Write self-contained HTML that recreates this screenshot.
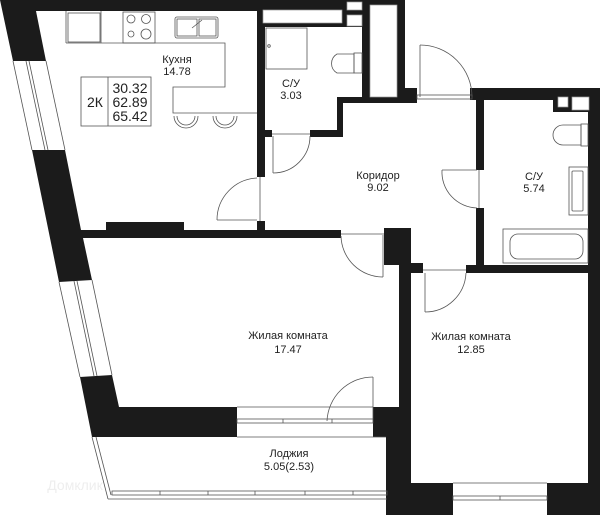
<!DOCTYPE html>
<html><head><meta charset="utf-8"><style>
html,body{margin:0;padding:0;background:#fff;}
svg{display:block;}
text{font-family:"Liberation Sans",sans-serif;fill:#222;text-anchor:middle;}
</style></head><body>
<svg width="600" height="515" viewBox="0 0 600 515" xmlns="http://www.w3.org/2000/svg">
<g fill="#1b1b1b">
<!-- left wall upper + kitchen top -->
<polygon points="0,0 262,0 262,11 36,11 46,61 13,61"/>
<!-- mid left chunk + kitchen/living wall -->
<polygon points="32,150 65,150 81,230 341,230 341,238 83,238 92,280 59,282"/>
<rect x="106" y="222" width="78" height="9"/>
<!-- lower left + living bottom wall -->
<polygon points="80,377 112,375 119,407 237,407 237,437 92,437"/>
<!-- upper middle block -->
<polygon points="257,0 405,0 405,88 417,88 417,103 343,103 343,137 265,137 265,177 257,177"/>
<rect x="257" y="221" width="8" height="17"/>
<!-- bathroom 5.74 walls -->
<rect x="470" y="88" width="130" height="12"/>
<rect x="476" y="88" width="8" height="82"/>
<rect x="476" y="208" width="8" height="65"/>
<rect x="466" y="265" width="134" height="8"/>
<rect x="553" y="100" width="37" height="12"/>
<rect x="588" y="88" width="12" height="427"/>
<!-- right room walls -->
<rect x="384" y="228" width="27" height="37"/>
<rect x="399" y="228" width="12" height="287"/>
<rect x="407" y="263" width="16" height="10"/>
<rect x="373" y="407" width="38" height="30"/>
<rect x="386" y="437" width="25" height="78"/>
<rect x="399" y="483" width="54" height="32"/>
<rect x="547" y="483" width="53" height="32"/>
</g>
<!-- white insets in upper block -->
<g fill="#fff" stroke="#999" stroke-width="0.7">
<rect x="263" y="10" width="79" height="13"/>
<rect x="370" y="5" width="27" height="92"/>
<rect x="347" y="2" width="15" height="8"/>
<rect x="347" y="15" width="15" height="11"/>
<rect x="558" y="97" width="10" height="10"/>
<rect x="572" y="97" width="17" height="13"/>
</g>
<g fill="#fff">
<rect x="265" y="27" width="97" height="70"/>
<rect x="265" y="96" width="72" height="34"/>
<rect x="272" y="129" width="38" height="9"/>
<rect x="265" y="27" width="77" height="2"/>
</g>
<!-- thin lines: windows, doors, fixtures -->
<g fill="none" stroke="#555" stroke-width="0.8">
<!-- upper window -->
<line x1="13" y1="61" x2="32" y2="150"/>
<line x1="46" y1="61" x2="65" y2="150"/>
<line x1="26" y1="61" x2="45" y2="150"/>
<line x1="29" y1="61" x2="48" y2="150"/>
<!-- lower window -->
<line x1="59" y1="282" x2="80" y2="377"/>
<line x1="92" y1="280" x2="112" y2="375"/>
<line x1="74" y1="281" x2="94" y2="376"/>
<line x1="77" y1="281" x2="97" y2="376"/>
<!-- living bottom glazing -->
<rect x="237" y="419" width="136" height="4"/>
<line x1="283" y1="419" x2="283" y2="423"/><line x1="332" y1="419" x2="332" y2="423"/>
<line x1="237" y1="407" x2="373" y2="407"/><line x1="237" y1="437" x2="386" y2="437"/>
<!-- living door -->
<line x1="373" y1="377" x2="373" y2="419"/>
<path d="M373,377 A46,46 0 0 0 327,421"/>
<!-- loggia -->
<line x1="92" y1="437" x2="108" y2="499"/>
<line x1="96" y1="437" x2="111" y2="495"/>
<polyline points="108,499 387,499"/>
<rect x="112" y="491" width="275" height="4"/>
<line x1="160" y1="491" x2="160" y2="495"/><line x1="208" y1="491" x2="208" y2="495"/><line x1="255" y1="491" x2="255" y2="495"/><line x1="305" y1="491" x2="305" y2="495"/><line x1="353" y1="491" x2="353" y2="495"/>
<!-- right room window -->
<rect x="453" y="496" width="94" height="4"/>
<line x1="453" y1="483" x2="547" y2="483"/>
<line x1="500" y1="496" x2="500" y2="500"/>
<!-- living top door -->
<line x1="383" y1="235" x2="383" y2="277"/>
<path d="M341,236 A42,42 0 0 0 383,277"/>
<line x1="341" y1="234" x2="384" y2="234"/>
<!-- right room door -->
<line x1="425" y1="273" x2="425" y2="312"/>
<path d="M466,273 A41,41 0 0 1 425,312"/>
<line x1="423" y1="270" x2="466" y2="270"/>
<!-- kitchen door -->
<line x1="217" y1="220" x2="257" y2="220"/>
<path d="M257,178 A42,42 0 0 0 217,220"/>
<line x1="260" y1="177" x2="260" y2="221"/>
<!-- bath 3.03 door -->
<line x1="273" y1="136" x2="273" y2="173"/>
<path d="M310,136 A37,37 0 0 1 273,173"/>
<line x1="272" y1="134" x2="310" y2="134"/>
<!-- bath 5.74 door -->
<line x1="442" y1="170" x2="477" y2="170"/>
<path d="M442,170 A36,36 0 0 0 477,208"/>
<line x1="479" y1="170" x2="479" y2="208"/>
<!-- entrance door -->
<line x1="420" y1="45" x2="420" y2="97"/>
<path d="M420,45 A52,52 0 0 1 472,97"/>
<rect x="417" y="95" width="55" height="4"/>
<!-- kitchen counter -->
<polyline points="66,43 225,43 225,87 173,87 173,113 257,113"/>
<line x1="66" y1="11" x2="66" y2="43"/>
<rect x="68" y="13" width="32" height="29"/>
<line x1="101" y1="11" x2="101" y2="43"/>
<rect x="123" y="12" width="32" height="31"/>
<circle cx="131" cy="19" r="4"/><circle cx="146" cy="19" r="4.5"/>
<circle cx="131" cy="34" r="3"/><circle cx="146" cy="34" r="5"/>
<rect x="175" y="17" width="43" height="21" rx="2"/>
<rect x="177" y="19" width="20" height="17"/><rect x="199" y="19" width="17" height="17"/>
<line x1="192" y1="28" x2="202" y2="20"/>
<path d="M174,116 A12,12 0 0 0 198,116"/><path d="M177,116 A9,9 0 0 0 195,116"/>
<path d="M213,116 A12,12 0 0 0 237,116"/><path d="M216,116 A9,9 0 0 0 234,116"/>
<!-- info box -->
<rect x="81" y="77" width="70" height="49"/>
<line x1="108" y1="77" x2="108" y2="126"/>
<!-- bath 3.03 fixtures -->
<rect x="266" y="28" width="41" height="41"/>
<circle cx="269" cy="46" r="1.3"/>
<path d="M354,54 L337,54 A11,11 0 0 0 337,73 L354,73 Z"/>
<rect x="354" y="53" width="8" height="20"/>
<!-- bath 5.74 fixtures -->
<path d="M581,125 L563,125 A10,10 0 0 0 563,145 L581,145 Z"/>
<rect x="581" y="124" width="7" height="22"/>
<rect x="569" y="167" width="19" height="48"/>
<rect x="572" y="171" width="11" height="40" rx="1"/>
<rect x="503" y="229" width="85" height="34"/>
<rect x="510" y="234" width="73" height="25" rx="8"/>
</g>
<g font-size="11">
<text x="177" y="63">Кухня</text><text x="177" y="75">14.78</text>
<text x="291" y="87">С/У</text><text x="291" y="99">3.03</text>
<text x="378" y="179">Коридор</text><text x="378" y="191">9.02</text>
<text x="534" y="180">С/У</text><text x="534" y="192">5.74</text>
<text x="288" y="339">Жилая комната</text><text x="288" y="353">17.47</text>
<text x="471" y="340">Жилая комната</text><text x="471" y="353">12.85</text>
<text x="289" y="457">Лоджия</text><text x="289" y="470">5.05(2.53)</text>
</g>
<g font-size="14">
<text x="95" y="107">2К</text>
<text x="130" y="93">30.32</text>
<text x="130" y="107">62.89</text>
<text x="130" y="121">65.42</text>
</g>
<text x="75" y="490" font-size="14" style="fill:#eeeeee">Домклик</text>
</svg>
</body></html>
